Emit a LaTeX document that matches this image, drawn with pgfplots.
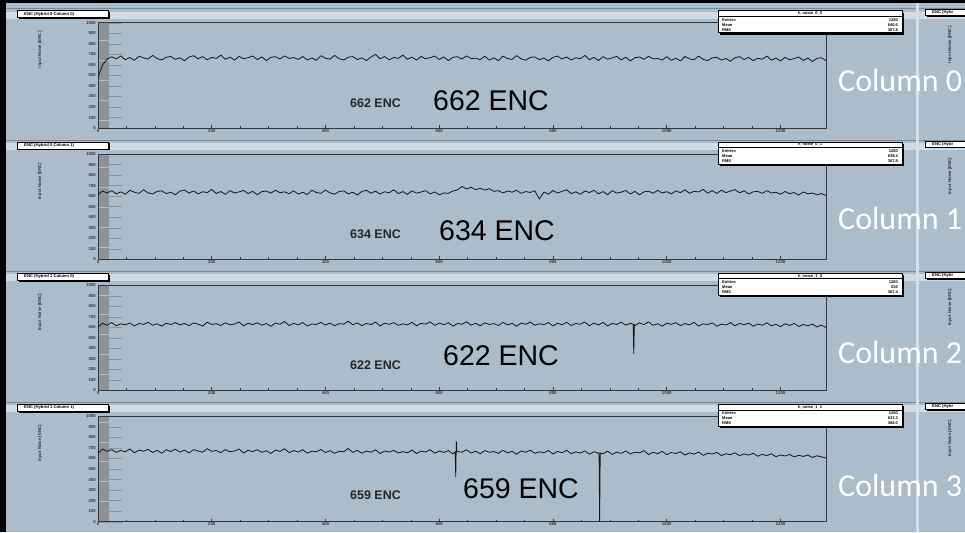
\documentclass[border=0pt]{standalone}
\usepackage{pgfplots}
\pgfplotsset{compat=1.18}
\usepackage{fontspec}
\setmainfont{Liberation Sans}
\newfontfamily\colfont{Carlito}
\definecolor{bgc}{RGB}{171,189,203}
\definecolor{framec}{RGB}{50,56,62}
\definecolor{bandc}{RGB}{208,219,228}
\definecolor{sepc}{RGB}{120,136,150}
\definecolor{vsep}{RGB}{214,224,232}
\definecolor{datac}{RGB}{20,20,20}
\pgfplotsset{
  panel/.style={
    scale only axis, width=728pt, height=105.3pt, anchor=south west,
    xmin=0, xmax=1280, ymin=0, ymax=1000,
    axis line style={draw=framec, line width=0.8pt},
    xtick={0,200,...,1200}, ytick={0,100,...,1000},
    minor x tick num=3, minor y tick num=9,
    tick align=inside, xtick pos=left, ytick pos=left,
    ytick style={/pgfplots/major tick length=24pt, /pgfplots/minor tick length=11pt, draw=framec!55, line width=0.35pt},
    xtick style={/pgfplots/major tick length=3pt, /pgfplots/minor tick length=2pt, draw=framec, line width=0.6pt},
    tick label style={font=\fontsize{4.3}{5}\selectfont\bfseries, text=black!80},
    yticklabel style={inner sep=1pt, xshift=-1pt},
    xticklabel style={inner sep=1pt},
    /pgf/number format/assume math mode=true,
    /pgf/number format/1000 sep={},
    scaled ticks=false,
  },
  dataline/.style={datac, line width=0.8pt, line join=round, mark=none},
}
\newcommand{\chlabel}{\node[font=\fontsize{4.3}{5}\selectfont\bfseries, text=black!80] at (axis description cs:0.981,-0.066) {Channel};}
\begin{document}
\begin{tikzpicture}
\begin{scope}[x=1pt,y=1pt]
\useasboundingbox (0,0) rectangle (965,532);
\fill[black] (0,0) rectangle (965,532);
\fill[bgc] (6,0) rectangle (965,528.5);
\foreach \p in {8.8,140.0,271.2,402.4}{
  \fill[bandc] (6,{532-\p-3}) rectangle (965,{532-\p-10});
  \draw[sepc, line width=0.8pt] (6,{532-\p}) -- (965,{532-\p});
}
\fill[vsep] (916,0) rectangle (918.5,528.5);
\foreach \p/\t in {8.8/{ENC (Hybrid 0 Column 0)},140.0/{ENC (Hybrid 0 Column 1)},271.2/{ENC (Hybrid 1 Column 0)},402.4/{ENC (Hybrid 1 Column 1)}}{
  \fill[black] (18.5,{532-\p-3.5}) rectangle (109.5,{532-\p-10.5});
  \draw[fill=white, line width=0.6pt] (17,{532-\p-2}) rectangle (108,{532-\p-9});
  \node[anchor=west, font=\fontsize{4.2}{5}\selectfont\bfseries, inner sep=0] at (24,{532-\p-5.5}) {\t};
  \fill[black] (926.5,{532-\p-2.5}) rectangle (980,{532-\p-8.5});
  \draw[fill=white, line width=0.6pt] (925,{532-\p-1}) rectangle (978,{532-\p-7});
  \node[anchor=west, font=\fontsize{4.2}{5}\selectfont\bfseries, inner sep=0] at (932,{532-\p-4}) {ENC (Hybr};
  \node[rotate=90, font=\fontsize{4.3}{5}\selectfont\bfseries, text=black!80] at (40,{532-\p-41}) {Input Noise [ENC]};
  \node[rotate=90, font=\fontsize{4.3}{5}\selectfont\bfseries, text=black!80] at (950,{532-\p-36}) {Input Noise [ENC]};
}
\end{scope}
% Panel 1
\begin{axis}[panel, at={(98pt,403.9pt)}]
\addplot[dataline] coordinates {
(0,480) (8,600) (16,655) (24,677) (32,657) (40,685) (48,650) (56,670) (64,643) (72,683)
(80,668) (88,655) (96,690) (104,660) (112,647) (120,673) (128,680) (136,653) (144,667) (152,640)
(160,675) (168,687) (176,659) (184,679) (192,649) (200,671) (208,662) (216,693) (224,653) (232,674)
(240,645) (248,681) (256,658) (264,669) (272,684) (280,651) (288,676) (296,641) (304,672) (312,678)
(320,656) (328,686) (336,661) (344,670) (352,652) (360,680) (368,648) (376,666) (384,644) (392,688)
(400,663) (408,655) (416,690) (424,659) (432,647) (440,673) (448,679) (456,651) (464,667) (472,642)
(480,675) (488,700) (496,658) (504,679) (512,649) (520,671) (528,662) (536,693) (544,653) (552,674)
(560,645) (568,681) (576,658) (584,669) (592,684) (600,651) (608,676) (616,641) (624,672) (632,678)
(640,656) (648,686) (656,661) (664,664) (672,650) (680,683) (688,646) (696,668) (704,640) (712,684)
(720,661) (728,652) (736,688) (744,657) (752,645) (760,671) (768,676) (776,650) (784,665) (792,639)
(800,672) (808,684) (816,656) (824,676) (832,646) (840,668) (848,659) (856,690) (864,650) (872,671)
(880,642) (888,678) (896,655) (904,666) (912,681) (920,648) (928,673) (936,638) (944,669) (952,675)
(960,653) (968,682) (976,658) (984,661) (992,647) (1000,679) (1008,643) (1016,664) (1024,637) (1032,680)
(1040,657) (1048,649) (1056,684) (1064,653) (1072,641) (1080,667) (1088,672) (1096,646) (1104,661) (1112,635)
(1120,668) (1128,679) (1136,651) (1144,671) (1152,641) (1160,663) (1168,654) (1176,684) (1184,645) (1192,665)
(1200,637) (1208,672) (1216,649) (1224,660) (1232,675) (1240,642) (1248,666) (1256,632) (1264,662) (1272,668)
(1280,640)};
\chlabel
\end{axis}
% Panel 2
\begin{axis}[panel, at={(98pt,272.7pt)}]
\addplot[dataline] coordinates {
(0,615) (8,648) (16,630) (24,652) (32,622) (40,640) (48,618) (56,655) (64,637) (72,626)
(80,660) (88,631) (96,620) (104,645) (112,650) (120,624) (128,638) (136,612) (144,647) (152,658)
(160,629) (168,649) (176,621) (184,642) (192,633) (200,663) (208,625) (216,644) (224,617) (232,652)
(240,630) (248,640) (256,654) (264,623) (272,646) (280,613) (288,643) (296,648) (304,628) (312,656)
(320,632) (328,641) (336,622) (344,650) (352,619) (360,637) (368,615) (376,657) (384,634) (392,626)
(400,659) (408,630) (416,618) (424,644) (432,649) (440,622) (448,636) (456,611) (464,645) (472,655)
(480,627) (488,647) (496,619) (504,641) (512,632) (520,660) (528,624) (536,643) (544,616) (552,650)
(560,628) (568,639) (576,652) (584,621) (592,640) (600,612) (608,630) (616,626) (624,648) (632,660)
(640,692) (648,668) (656,683) (664,662) (672,674) (680,657) (688,670) (696,645) (704,652) (712,630)
(720,648) (728,638) (736,655) (744,626) (752,643) (760,635) (768,651) (776,572) (784,640) (792,618)
(800,653) (808,629) (816,645) (824,660) (832,624) (840,641) (848,617) (856,648) (864,634) (872,656)
(880,622) (888,643) (896,614) (904,651) (912,629) (920,638) (928,653) (936,620) (944,645) (952,612)
(960,641) (968,647) (976,627) (984,655) (992,630) (1000,642) (1008,621) (1016,650) (1024,633) (1032,660)
(1040,626) (1048,646) (1056,639) (1064,664) (1072,628) (1080,652) (1088,625) (1096,657) (1104,633) (1112,648)
(1120,662) (1128,631) (1136,650) (1144,620) (1152,641) (1160,645) (1168,626) (1176,652) (1184,629) (1192,637)
(1200,618) (1208,644) (1216,623) (1224,634) (1232,610) (1240,640) (1248,621) (1256,629) (1264,612) (1272,625)
(1280,605)};
\chlabel
\end{axis}
% Panel 3
\begin{axis}[panel, at={(98pt,141.5pt)}]
\addplot[dataline] coordinates {
(0,605) (8,638) (16,620) (24,646) (32,615) (40,633) (48,624) (56,641) (64,612) (72,636)
(80,628) (88,648) (96,619) (104,634) (112,611) (120,640) (128,626) (136,645) (144,622) (152,637)
(160,616) (168,642) (176,630) (184,612) (192,649) (200,627) (208,635) (216,618) (224,644) (232,624)
(240,631) (248,650) (256,614) (264,639) (272,626) (280,643) (288,620) (296,636) (304,609) (312,641)
(320,629) (328,655) (336,617) (344,638) (352,623) (360,646) (368,612) (376,632) (384,627) (392,648)
(400,621) (408,640) (416,614) (424,635) (432,630) (440,658) (448,624) (456,642) (464,616) (472,637)
(480,626) (488,650) (496,613) (504,639) (512,628) (520,645) (528,619) (536,633) (544,622) (552,647)
(560,615) (568,638) (576,630) (584,652) (592,618) (600,640) (608,625) (616,644) (624,611) (632,636)
(640,629) (648,653) (656,620) (664,639) (672,614) (680,643) (688,627) (696,635) (704,617) (712,648)
(720,623) (728,637) (736,610) (744,641) (752,628) (760,650) (768,619) (776,634) (784,626) (792,645)
(800,612) (808,639) (816,624) (824,648) (832,618) (840,636) (848,629) (856,651) (864,615) (872,640)
(880,622) (888,646) (896,613) (904,637) (912,627) (920,649) (928,620) (936,638) (941,630) (942,352) (943,628) (944,616) (952,643)
(960,625) (968,652) (976,619) (984,634) (992,611) (1000,640) (1008,628) (1016,644) (1024,617) (1032,636)
(1040,623) (1048,647) (1056,612) (1064,633) (1072,626) (1080,642) (1088,609) (1096,631) (1104,621) (1112,645)
(1120,614) (1128,637) (1136,624) (1144,640) (1152,610) (1160,632) (1168,619) (1176,643) (1184,615) (1192,628)
(1200,606) (1208,634) (1216,618) (1224,637) (1232,608) (1240,627) (1248,614) (1256,631) (1264,603) (1272,622)
(1280,598)};
\chlabel
\end{axis}
% Panel 4
\begin{axis}[panel, at={(98pt,10.3pt)}]
\addplot[dataline] coordinates {
(0,650) (8,690) (16,668) (24,684) (32,659) (40,676) (48,664) (56,691) (64,655) (72,680)
(80,670) (88,686) (96,658) (104,677) (112,650) (120,683) (128,667) (136,689) (144,661) (152,679)
(160,653) (168,684) (176,672) (184,660) (192,694) (200,668) (208,676) (216,655) (224,685) (232,664)
(240,671) (248,690) (256,652) (264,678) (272,666) (280,684) (288,659) (296,674) (304,648) (312,681)
(320,667) (328,693) (336,656) (344,676) (352,661) (360,684) (368,650) (376,670) (384,664) (392,686)
(400,657) (408,675) (416,649) (424,669) (432,664) (440,695) (448,658) (456,677) (464,650) (472,671)
(480,660) (488,683) (496,647) (504,672) (512,661) (520,678) (528,652) (536,666) (544,655) (552,680)
(560,648) (568,670) (576,662) (584,684) (592,650) (600,672) (608,657) (616,676) (624,643) (628,665) (629,425) (630,760) (631,670)
(632,666) (640,660) (648,684) (656,651) (664,670) (672,645) (680,675) (688,659) (696,667) (704,648) (712,679)
(720,654) (728,668) (736,641) (744,672) (752,659) (760,680) (768,649) (776,664) (784,656) (792,676)
(800,643) (808,668) (816,655) (824,678) (832,646) (840,663) (848,652) (856,673) (864,640) (872,665)
(880,650) (881,655) (882,0) (883,652) (888,645) (896,670) (904,639) (912,661) (920,649) (928,672) (936,642) (944,660) (952,654)
(960,675) (968,638) (976,659) (984,646) (992,668) (1000,636) (1008,657) (1016,648) (1024,664) (1032,633)
(1040,654) (1048,641) (1056,662) (1064,630) (1072,650) (1080,643) (1088,658) (1096,628) (1104,645) (1112,637)
(1120,655) (1128,625) (1136,644) (1144,632) (1152,650) (1160,622) (1168,640) (1176,627) (1184,645) (1192,618)
(1200,634) (1208,624) (1216,639) (1224,615) (1232,631) (1240,620) (1248,633) (1256,610) (1264,626) (1272,616)
(1280,605)};
\chlabel
\end{axis}
\begin{scope}[x=1pt,y=1pt]
% stats boxes
\foreach \p/\h/\m/\r in {8.8/h\_noise\_0\_0/640.6/367.8,140.0/h\_noise\_0\_1/639.4/367.8,271.2/h\_noise\_1\_0/636/367.4,402.4/h\_noise\_1\_1/633.3/368.0}{
  \fill[black] (720,{532-\p-4}) rectangle (904,{532-\p-26});
  \draw[fill=white, line width=0.7pt] (718,{532-\p-2}) rectangle (902,{532-\p-24});
  \draw[line width=0.5pt] (718,{532-\p-7.5}) -- (902,{532-\p-7.5});
  \node[font=\fontsize{4}{5}\selectfont\bfseries, inner sep=0] at (810,{532-\p-4.8}) {\h};
  \node[anchor=west, font=\fontsize{4}{5}\selectfont\bfseries, inner sep=0] at (722,{532-\p-11}) {Entries};
  \node[anchor=east, font=\fontsize{4}{5}\selectfont\bfseries, inner sep=0] at (898,{532-\p-11}) {1280};
  \node[anchor=west, font=\fontsize{4}{5}\selectfont\bfseries, inner sep=0] at (722,{532-\p-16}) {Mean};
  \node[anchor=east, font=\fontsize{4}{5}\selectfont\bfseries, inner sep=0] at (898,{532-\p-16}) {\m};
  \node[anchor=west, font=\fontsize{4}{5}\selectfont\bfseries, inner sep=0] at (722,{532-\p-21}) {RMS};
  \node[anchor=east, font=\fontsize{4}{5}\selectfont\bfseries, inner sep=0] at (898,{532-\p-21}) {\r};
}
% ENC labels
\foreach \x/\y/\v in {433/111/662,439/241/634,443/366/622,463/499/659}{
  \node[anchor=base west, inner sep=0, font=\fontsize{28.5}{30}\selectfont] at (\x,{532-\y}) {\v\ ENC};
}
\foreach \y/\v in {103/662,234/634,365/622,495.5/659}{
  \node[anchor=center, inner sep=0, font=\fontsize{12.5}{14}\selectfont\bfseries, text=black!85] at (375.5,{532-\y}) {\v\ ENC};
}
% Column labels
\foreach \y/\c in {92/0,230/1,364/2,497/3}{
  \node[anchor=base west, inner sep=0, text=white, font=\colfont\fontsize{32}{34}\selectfont] at (838,{532-\y}) {Column \c};
}
\end{scope}
\end{tikzpicture}
\end{document}
